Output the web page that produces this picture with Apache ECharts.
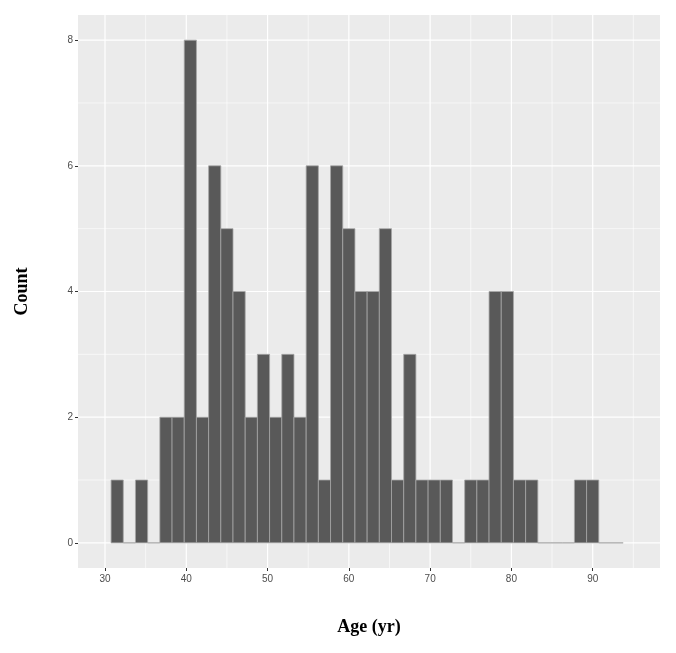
<!DOCTYPE html>
<html>
<head>
<meta charset="utf-8">
<script src="https://cdn.jsdelivr.net/npm/echarts@6/dist/echarts.min.js"></script>
<style>html,body{margin:0;padding:0;background:#fff}#c{width:676px;height:653px}</style>
</head>
<body>
<div id="c"></div>
<script>
// Histogram of ages: bins of 1.5 yr starting at 30.75
const binStart = 30.75;
const binWidth = 1.5;
const counts = [1,0,1,0,2,2,8,2,6,5,4,2,3,2,3,2,6,1,6,5,4,4,5,1,3,1,1,1,0,1,1,4,4,1,1,0,0,0,1,1,0,0];
const xTicks = [30,40,50,60,70,80,90];
const xMinor = [35,45,55,65,75,85,95];
const yTicks = [0,2,4,6,8];
const yMinor = [1,3,5,7];
const xRange = [26.68, 98.28];
const yRange = [-0.4, 8.4];

const binData = counts.map((c, i) => [binStart + i * binWidth, binStart + (i + 1) * binWidth, c]);
// grid lines: [value, orientation (0 = vertical, 1 = horizontal), major (1) / minor (0)]
const gridData = []
  .concat(xMinor.map(v => [v, 0, 0]))
  .concat(yMinor.map(v => [v, 1, 0]))
  .concat(xTicks.map(v => [v, 0, 1]))
  .concat(yTicks.map(v => [v, 1, 1]));

const chart = echarts.init(document.getElementById('c'), null, {renderer: 'canvas'});
const labelStyle = {color: '#4D4D4D', fontSize: 10, fontFamily: 'Liberation Sans, Arial, sans-serif'};
chart.setOption({
  animation: false,
  grid: {left: 78, right: 16, top: 15, bottom: 85, show: true, backgroundColor: '#EBEBEB', borderWidth: 0},
  xAxis: {
    type: 'value', min: xRange[0], max: xRange[1],
    name: 'Age (yr)', nameLocation: 'middle', nameGap: 50,
    nameTextStyle: {fontFamily: 'Liberation Serif, Times New Roman, serif', fontWeight: 'bold', fontSize: 18, color: '#000'},
    axisLine: {show: false, onZero: false},
    axisTick: {show: true, length: 3, customValues: xTicks, lineStyle: {color: '#333333', width: 1}},
    axisLabel: Object.assign({customValues: xTicks, margin: 6}, labelStyle),
    splitLine: {show: false}
  },
  yAxis: {
    type: 'value', min: yRange[0], max: yRange[1],
    name: 'Count', nameLocation: 'middle', nameGap: 47,
    nameTextStyle: {fontFamily: 'Liberation Serif, Times New Roman, serif', fontWeight: 'bold', fontSize: 18, color: '#000'},
    axisLine: {show: false, onZero: false},
    axisTick: {show: true, length: 3, customValues: yTicks, lineStyle: {color: '#333333', width: 1}},
    axisLabel: Object.assign({customValues: yTicks, margin: 5}, labelStyle),
    splitLine: {show: false}
  },
  series: [
    {
      type: 'custom', z: 1, silent: true,
      data: gridData,
      encode: {x: 0},
      renderItem: function (params, api) {
        const v = api.value(0), orient = api.value(1), major = api.value(2);
        const cs = params.coordSys;
        let shape;
        if (orient === 0) {
          const px = api.coord([v, yRange[0]])[0];
          shape = {x1: px, y1: cs.y, x2: px, y2: cs.y + cs.height};
        } else {
          const py = api.coord([xRange[0], v])[1];
          shape = {x1: cs.x, y1: py, x2: cs.x + cs.width, y2: py};
        }
        return {type: 'line', shape: shape, style: {stroke: '#FFFFFF', lineWidth: major ? 1.2 : 0.6}};
      }
    },
    {
      type: 'custom', z: 3, silent: true,
      data: binData,
      encode: {x: [0, 1], y: 2},
      renderItem: function (params, api) {
        const x0 = api.value(0), x1 = api.value(1), c = api.value(2);
        const p0 = api.coord([x0, c]);
        const p1 = api.coord([x1, 0]);
        return {
          type: 'rect',
          shape: {x: p0[0], y: p0[1], width: p1[0] - p0[0], height: p1[1] - p0[1]},
          style: {fill: '#595959', stroke: '#A6A6A6', lineWidth: 0.8}
        };
      }
    }
  ]
});
</script>
</body>
</html>
